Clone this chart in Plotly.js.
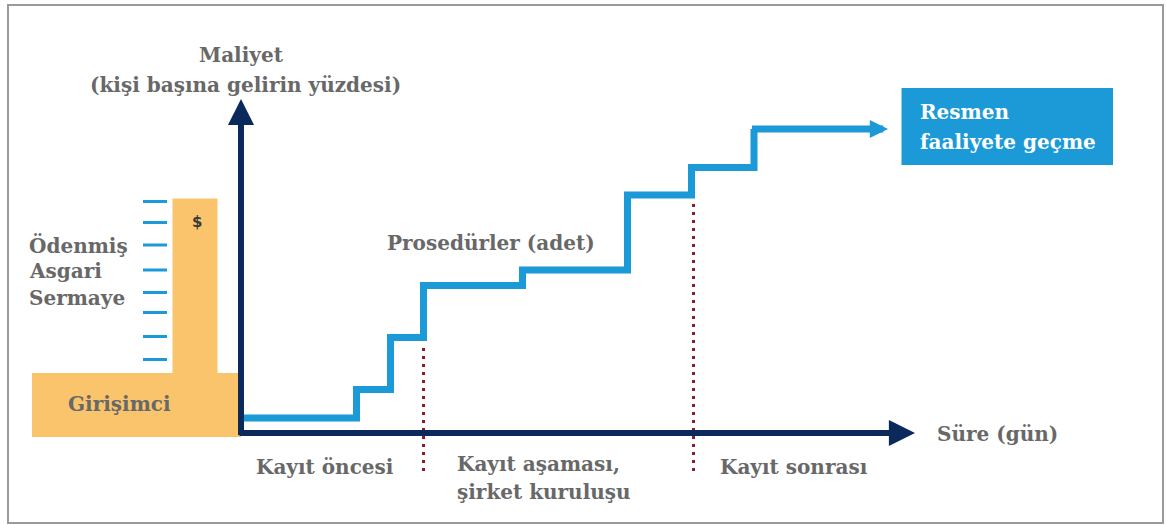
<!DOCTYPE html>
<html>
<head>
<meta charset="utf-8">
<script src="https://cdn.plot.ly/plotly-3.0.1.min.js"></script>
<style>html,body{margin:0;padding:0;background:#fff;}#chart{width:1166px;height:525px;}</style>
</head>
<body>
<div id="chart"></div>
<script>
// ---- Diagram data (abstract units: x = time, y = cost) ----
const stepDays  = [0, 23.1, 29.9, 36.5, 56.3, 77.3, 90.1, 102.6];
const stepCost  = [3, 8.7, 19.1, 29.5, 32.6, 47.6, 53.1, 60.8];
const stepArrowTail = [101.9, 60.8];
const stepArrowTip  = [129.4, 60.8];
const phaseBoundaries = [36.5, 90.5];
const phaseTops = [17, 46];
const phaseBottom = -7.6;
const capitalTicks = [46.3, 42.1, 37.6, 32.6, 28.1, 24.1, 19.3, 14.7];
const capitalTickSpan = [-19.6, -14.8];
const entrepreneurBlock = [-41.8, 0, -0.8, 12];   // x0,x1,y0,y1
const capitalBar = [-13.7, -4.7, 12, 46.9];
const finishBox = [132.1, 174.4, 53.6, 69];
const yAxisSpan = [-0.7, 66.8];
const xAxisSpan = [-0.6, 134.8];

const phaseLabels = ["Kayıt öncesi", "Kayıt aşaması,", "şirket kuruluşu", "Kayıt sonrası"];
const phaseLabelX = [2.6, 42.8, 42.8, 95.3];
const phaseLabelY = [-6.8, -6.2, -11.8, -6.8];
const capitalLabels = ["Ödenmiş", "Asgari", "Sermaye"];
const capitalLabelY = [37.6, 32.4, 27];

const BLUE = "#1B9AD7", NAVY = "#0B2A5B", ORANGE = "#F9C46B", RED = "#8B1C2C", GRAY = "#686868";
const FONT = {family: "DejaVu Serif", size: 20, color: GRAY, weight: 700};

// dashes trace
const dashX = [], dashY = [];
capitalTicks.forEach(v => { dashX.push(capitalTickSpan[0], capitalTickSpan[1], null); dashY.push(v, v, null); });

const traces = [
  {x: stepDays, y: stepCost, mode: "lines", line: {shape: "hv", color: BLUE, width: 7}, hoverinfo: "skip"},
  {x: dashX, y: dashY, mode: "lines", line: {color: BLUE, width: 3}, connectgaps: false, hoverinfo: "skip"}
];

const shapes = [
  {type: "rect", xref: "paper", yref: "paper", x0: 8/1166, x1: 1163/1166, y0: 1 - 523/525, y1: 1 - 5/525,
   line: {color: "#9a9a9a", width: 2}, fillcolor: "rgba(0,0,0,0)", layer: "below"},
  {type: "rect", xref: "x", yref: "y", x0: entrepreneurBlock[0], x1: entrepreneurBlock[1], y0: entrepreneurBlock[2], y1: entrepreneurBlock[3],
   fillcolor: ORANGE, line: {width: 0}, layer: "below"},
  {type: "rect", xref: "x", yref: "y", x0: capitalBar[0], x1: capitalBar[1], y0: capitalBar[2], y1: capitalBar[3],
   fillcolor: ORANGE, line: {width: 0}, layer: "below"},
  {type: "rect", xref: "x", yref: "y", x0: finishBox[0], x1: finishBox[1], y0: finishBox[2], y1: finishBox[3],
   fillcolor: BLUE, line: {width: 0}, layer: "below"}
];
phaseBoundaries.forEach((b, i) => shapes.push({type: "line", xref: "x", yref: "y", x0: b, x1: b, y0: phaseBottom, y1: phaseTops[i],
  line: {color: RED, width: 3, dash: "3px,5px"}, layer: "above"}));

const annotations = [
  // axes arrows
  {x: 0, y: yAxisSpan[1], ax: 0, ay: yAxisSpan[0], xref: "x", yref: "y", axref: "x", ayref: "y", text: "",
   showarrow: true, arrowhead: 2, arrowwidth: 6, arrowsize: 0.87, arrowcolor: NAVY, standoff: 0},
  {x: xAxisSpan[1], y: 0, ax: xAxisSpan[0], ay: 0, xref: "x", yref: "y", axref: "x", ayref: "y", text: "",
   showarrow: true, arrowhead: 2, arrowwidth: 6, arrowsize: 0.87, arrowcolor: NAVY, standoff: 0},
  // step arrow
  {x: stepArrowTip[0], y: stepArrowTip[1], ax: stepArrowTail[0], ay: stepArrowTail[1], xref: "x", yref: "y", axref: "x", ayref: "y", text: "",
   showarrow: true, arrowhead: 2, arrowwidth: 7, arrowsize: 0.52, arrowcolor: BLUE, standoff: 0},
  // texts
  {x: 0, y: 75.6, xref: "x", yref: "y", text: "Maliyet", showarrow: false, font: FONT, xanchor: "center", yanchor: "middle"},
  {x: 0.8, y: 69.6, xref: "x", yref: "y", text: "(kişi başına gelirin yüzdesi)", showarrow: false, font: FONT, xanchor: "center", yanchor: "middle"},
  {x: 50, y: 38, xref: "x", yref: "y", text: "Prosedürler (adet)", showarrow: false, font: FONT, xanchor: "center", yanchor: "middle"},
  {x: 138.8, y: -0.2, xref: "x", yref: "y", text: "Süre (gün)", showarrow: false, font: FONT, xanchor: "left", yanchor: "middle"},
  {x: -24.4, y: 5.8, xref: "x", yref: "y", text: "Girişimci", showarrow: false, font: FONT, xanchor: "center", yanchor: "middle"},
  {x: -8.8, y: 42.2, xref: "x", yref: "y", text: "$", showarrow: false, font: {family: "DejaVu Sans", size: 15, color: "#3a3a3a", weight: 700}, xanchor: "center", yanchor: "middle"},
  {x: 135.4, y: 64.2, xref: "x", yref: "y", text: "Resmen", showarrow: false, font: Object.assign({}, FONT, {color: "#ffffff"}), xanchor: "left", yanchor: "middle"},
  {x: 135.4, y: 58.2, xref: "x", yref: "y", text: "faaliyete geçme", showarrow: false, font: Object.assign({}, FONT, {color: "#ffffff"}), xanchor: "left", yanchor: "middle"}
];
phaseLabels.forEach((t, i) => annotations.push({x: phaseLabelX[i], y: phaseLabelY[i], xref: "x", yref: "y", text: t,
  showarrow: false, font: FONT, xanchor: "left", yanchor: "middle"}));
capitalLabels.forEach((t, i) => annotations.push({x: -42.8, y: capitalLabelY[i], xref: "x", yref: "y", text: t,
  showarrow: false, font: FONT, xanchor: "left", yanchor: "middle"}));

const layout = {
  width: 1166, height: 525,
  margin: {l: 0, r: 0, t: 0, b: 0, pad: 0},
  paper_bgcolor: "#ffffff", plot_bgcolor: "#ffffff",
  showlegend: false,
  xaxis: {range: [-48.2, 185], visible: false, fixedrange: true},
  yaxis: {range: [-18.4, 86.6], visible: false, fixedrange: true},
  shapes: shapes,
  annotations: annotations,
  hovermode: false
};

Plotly.newPlot("chart", traces, layout, {displayModeBar: false, staticPlot: true});
</script>
</body>
</html>
